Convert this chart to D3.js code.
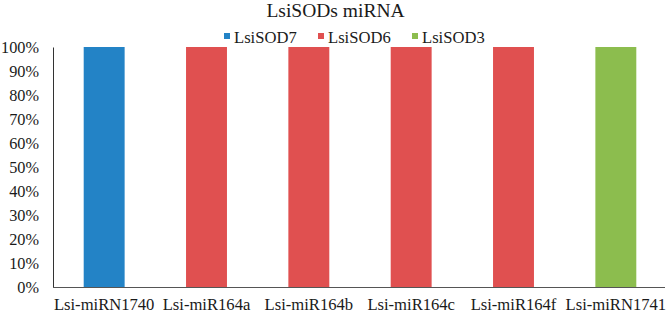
<!DOCTYPE html>
<html>
<head>
<meta charset="utf-8">
<script src="https://cdn.jsdelivr.net/npm/d3@7"></script>
<style>
  body { margin: 0; background: white; }
  svg text { font-family: "Liberation Serif", "Times New Roman", serif; fill: #1a1a1a; }
</style>
</head>
<body>
<div id="chart"></div>
<script>
// chart values
const categories = ['Lsi-miRN1740', 'Lsi-miR164a', 'Lsi-miR164b', 'Lsi-miR164c', 'Lsi-miR164f', 'Lsi-miRN1741'];
const targets = ['LsiSOD7', 'LsiSOD6', 'LsiSOD6', 'LsiSOD6', 'LsiSOD6', 'LsiSOD3'];
const shares = [1, 1, 1, 1, 1, 1];
const seriesNames = ['LsiSOD7', 'LsiSOD6', 'LsiSOD3'];
const seriesColors = ['#2383c6', '#e05050', '#8cbd4e'];
const yTicks = [0, 0.1, 0.2, 0.3, 0.4, 0.5, 0.6, 0.7, 0.8, 0.9, 1];

const width = 671, height = 314;
const margin = {top: 47, right: 4, bottom: 27, left: 53};
const serif = '"Liberation Serif", "Times New Roman", serif';

const svg = d3.select('#chart').append('svg')
    .attr('width', width)
    .attr('height', height);

const x = d3.scaleBand()
    .domain(categories)
    .range([margin.left, width - margin.right])
    .paddingInner(0.6)
    .paddingOuter(0.3);

const y = d3.scaleLinear()
    .domain([0, 1])
    .range([height - margin.bottom, margin.top]);

const color = d3.scaleOrdinal()
    .domain(seriesNames)
    .range(seriesColors);

// title
svg.append('text')
    .attr('x', width / 2)
    .attr('y', 17)
    .attr('text-anchor', 'middle')
    .style('font-family', serif)
    .style('font-size', '19.5px')
    .text('LsiSODs miRNA');

// legend
const legendX = [224, 318, 412];
const legend = svg.append('g').attr('class', 'legend');
seriesNames.forEach((name, i) => {
    legend.append('rect')
        .attr('x', legendX[i])
        .attr('y', 33)
        .attr('width', 6)
        .attr('height', 6)
        .attr('fill', color(name));
    legend.append('text')
        .attr('x', legendX[i] + 10)
        .attr('y', 43)
        .style('font-family', serif)
        .style('font-size', '16.6px')
        .text(name);
});

// bars
svg.append('g')
    .selectAll('rect')
    .data(categories.map((c, i) => ({cat: c, target: targets[i], value: shares[i]})))
    .join('rect')
    .attr('x', d => x(d.cat))
    .attr('y', d => y(d.value))
    .attr('width', x.bandwidth())
    .attr('height', d => y(0) - y(d.value))
    .attr('fill', d => color(d.target));

// y axis
const yAxis = svg.append('g')
    .attr('transform', `translate(${margin.left},0)`)
    .attr('font-family', serif)
    .call(d3.axisLeft(y).tickValues(yTicks).tickFormat(d3.format('.0%')).tickSize(0).tickPadding(14));
yAxis.select('.domain').attr('stroke', '#333');
yAxis.selectAll('text')
    .style('font-family', serif)
    .style('font-size', '16.3px')
    .attr('fill', '#1a1a1a');

// x axis
const xAxis = svg.append('g')
    .attr('transform', `translate(0,${height - margin.bottom})`)
    .attr('font-family', serif)
    .call(d3.axisBottom(x).tickSize(0));
xAxis.select('.domain').attr('stroke', '#555').attr('d', `M${margin.left},0.5H${width - 6}`);
xAxis.selectAll('text')
    .attr('y', 23)
    .attr('dy', 0)
    .style('font-family', serif)
    .style('font-size', '16.6px')
    .attr('fill', '#1a1a1a');
</script>
</body>
</html>
